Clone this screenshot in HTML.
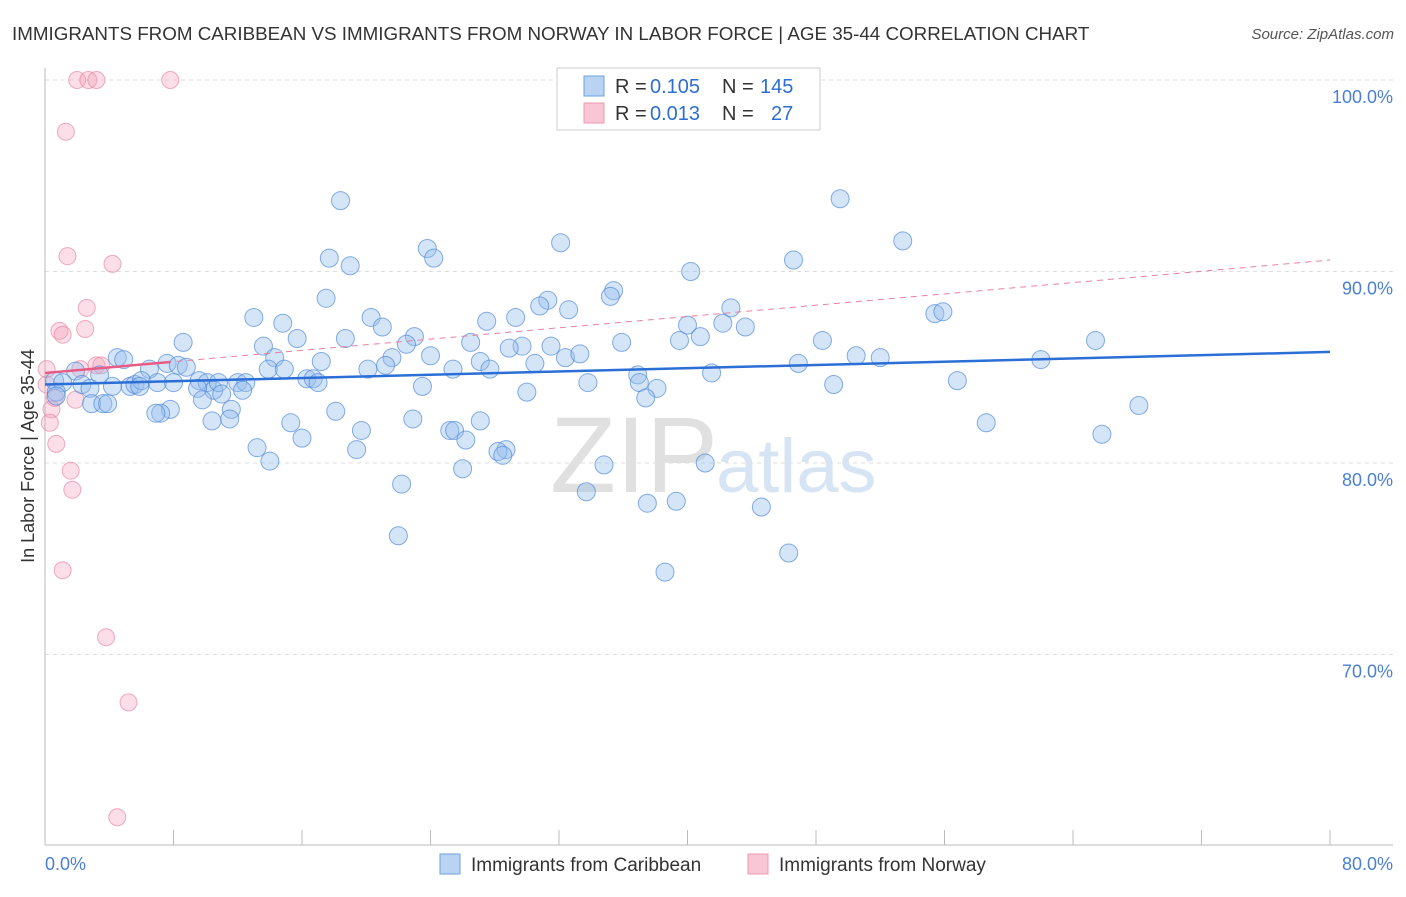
<!DOCTYPE html>
<html><head><meta charset="utf-8"><style>
body{margin:0;background:#fff;font-family:"Liberation Sans",sans-serif}
svg text{font-family:"Liberation Sans",sans-serif}
</style></head><body>
<svg id="chart" width="1406" height="892">
<text x="12" y="40" font-size="18.8" fill="#333">IMMIGRANTS FROM CARIBBEAN VS IMMIGRANTS FROM NORWAY IN LABOR FORCE | AGE 35-44 CORRELATION CHART</text>
<text x="1394" y="39" font-size="15" fill="#555" font-style="italic" text-anchor="end">Source: ZipAtlas.com</text>
<g id="grid"></g>
<text x="718" y="492" font-size="108" fill="#e0e0e0" text-anchor="end" font-family="Liberation Serif">ZIP</text>
<text x="716" y="492" font-size="76" fill="#d6e4f4">atlas</text>
<g id="pts"></g>
<g id="trends"></g>
<text transform="translate(34,456) rotate(-90)" font-size="18" fill="#333" text-anchor="middle">In Labor Force | Age 35-44</text>
<text x="45" y="870" font-size="18" fill="#4a7fd4">0.0%</text>
<text x="1393" y="870" font-size="18" fill="#4a7fd4" text-anchor="end">80.0%</text>
<g>
<rect x="557" y="68" width="263" height="62" fill="#fff" stroke="#ccc"/>
<rect x="584" y="76" width="20" height="20" fill="#b9d3f3" stroke="#6fa0e0"/>
<rect x="584" y="103" width="20" height="20" fill="#f8c6d4" stroke="#ee9ab3"/>
<text x="615" y="93" font-size="20" fill="#333">R =</text>
<text x="650" y="93" font-size="20" fill="#2d6ed2">0.105</text>
<text x="722" y="93" font-size="20" fill="#333">N =</text>
<text x="760" y="93" font-size="20" fill="#2d6ed2">145</text>
<text x="615" y="120" font-size="20" fill="#333">R =</text>
<text x="650" y="120" font-size="20" fill="#2d6ed2">0.013</text>
<text x="722" y="120" font-size="20" fill="#333">N =</text>
<text x="771" y="120" font-size="20" fill="#2d6ed2">27</text>
</g>
<g>
<rect x="440" y="854" width="20" height="20" fill="#b9d3f3" stroke="#6fa0e0"/>
<text x="471" y="871" font-size="19" fill="#333">Immigrants from Caribbean</text>
<rect x="748" y="854" width="20" height="20" fill="#f8c6d4" stroke="#ee9ab3"/>
<text x="779" y="871" font-size="19" fill="#333">Immigrants from Norway</text>
</g>
</svg>
<script>
const yTicks=[100,90,80,70];
const yTickLabels=["100.0%","90.0%","80.0%","70.0%"];
const xTicks=[8,16,24,32,40,48,56,64,72,80];
const blueX=[18.4,49.5,53.4,32.1,23.8,24.2,17.7,19.0,46.6,40.2,35.4,35.2,17.5,31.3,30.8,32.6,42.7,13.0,20.3,14.8,27.5,29.3,55.4,55.9,40.0,42.2,43.6,21.0,23.0,18.7,15.7,8.6,13.6,26.5,29.7,28.9,35.9,39.5,40.8,48.4,65.4,22.5,14.3,21.6,24.0,31.5,32.4,33.3,50.5,52.0,62.0,4.5,4.9,7.6,8.3,8.8,6.5,13.9,14.9,17.2,20.1,21.2,27.1,25.4,30.5,27.7,36.9,41.5,46.9,1.9,3.4,0.6,1.1,2.3,2.8,4.2,5.3,5.6,6.0,7.0,8.0,5.9,9.6,10.1,10.5,10.8,12.0,12.5,12.3,9.5,16.3,16.7,17.0,23.5,33.8,37.0,38.1,49.1,56.8,0.7,0.7,2.9,3.6,3.9,9.8,11.0,11.6,7.8,7.2,6.9,10.4,11.5,18.1,30.0,37.4,15.3,19.7,16.0,22.9,27.1,25.2,25.5,26.2,28.7,28.2,28.5,19.4,13.2,14.0,26.0,34.8,41.1,58.6,65.8,68.1,22.2,33.7,37.5,39.3,44.6,22.0,46.3,38.6];
const blueY=[93.7,93.8,91.6,91.5,91.2,90.7,90.7,90.3,90.6,90.0,89.0,88.7,88.6,88.5,88.2,88.0,88.1,87.6,87.6,87.3,87.4,87.6,87.8,87.9,87.2,87.3,87.1,87.1,86.6,86.5,86.5,86.3,86.1,86.3,86.1,86.0,86.3,86.4,86.6,86.4,86.4,86.2,85.5,85.5,85.6,86.1,85.5,85.7,85.6,85.5,85.4,85.5,85.4,85.2,85.1,85.0,84.9,84.9,84.9,85.3,84.9,85.1,85.3,84.9,85.2,84.9,84.6,84.7,85.2,84.8,84.6,84.3,84.2,84.1,83.9,84.0,84.0,84.1,84.3,84.2,84.2,84.0,84.3,84.2,83.8,84.2,84.2,84.2,83.8,83.9,84.4,84.4,84.2,84.0,84.2,84.2,83.9,84.1,84.3,83.7,83.5,83.1,83.1,83.1,83.3,83.6,82.8,82.8,82.6,82.6,82.2,82.3,82.7,83.7,83.4,82.1,81.7,81.3,82.3,82.2,81.7,81.7,81.2,80.7,80.6,80.4,80.7,80.8,80.1,79.7,79.9,80.0,82.1,81.5,83.0,78.9,78.5,77.9,78.0,77.7,76.2,75.3,74.3];
const pinkX=[2.0,2.7,3.2,7.8,1.3,1.4,4.2,2.6,0.9,1.1,2.5,0.1,2.2,3.2,3.5,0.6,0.4,0.3,0.7,1.6,1.7,1.1,3.8,5.2,4.5,1.9,0.1];
const pinkY=[100,100,100,100,97.3,90.8,90.4,88.1,86.9,86.7,87.0,84.9,84.9,85.1,85.1,83.4,82.8,82.1,81.0,79.6,78.6,74.4,70.9,67.5,61.5,83.3,84.1];
const blueTrend=[84.1,85.8];
const pinkTrend=[84.7,90.6];
const NS="http://www.w3.org/2000/svg";
const X0=45,X1=1330,Y100=80,PXPER=19.15;
function sx(v){return X0+(X1-X0)*v/80;}
function sy(v){return Y100+(100-v)*PXPER;}
function mk(tag,attrs,parent){const e=document.createElementNS(NS,tag);for(const k in attrs)e.setAttribute(k,attrs[k]);parent.appendChild(e);return e;}
const grid=document.getElementById('grid');
yTicks.forEach((t,i)=>{
 const l=mk('line',{x1:X0,x2:1393,y1:sy(t),y2:sy(t),stroke:'#ddd','stroke-dasharray':'4,4'},grid);
 
 
 const tx=mk('text',{x:1393,y:sy(t)+23,'font-size':18,fill:'#4a7fd4','text-anchor':'end'},grid);
 tx.textContent=yTickLabels[i];
 
 
});
const ax=mk('line',{x1:X0,x2:X0,y1:68,y2:845,stroke:'#bbb'},grid);


const bx=mk('line',{x1:X0,x2:1393,y1:845,y2:845,stroke:'#bbb'},grid);


xTicks.forEach(t=>{
 const tk=mk('line',{x1:sx(t),x2:sx(t),y1:830,y2:845,stroke:'#bbb'},grid);
 
 
});
const pts=document.getElementById('pts');
pinkX.forEach((x,i)=>{
 const c=mk('circle',{cx:sx(x),cy:sy(pinkY[i]),r:8.5,fill:'rgba(244,160,185,0.35)',stroke:'rgba(232,120,155,0.6)','stroke-width':1},pts);
 
 
});
blueX.forEach((x,i)=>{
 const c=mk('circle',{cx:sx(x),cy:sy(blueY[i]),r:9,fill:'rgba(150,190,238,0.4)',stroke:'rgba(70,130,215,0.65)','stroke-width':1},pts);
 
 
});
const tr=document.getElementById('trends');
const pd=mk('line',{x1:sx(0),y1:sy(pinkTrend[0]),x2:sx(80),y2:sy(pinkTrend[1]),stroke:'#e8809e','stroke-width':1,'stroke-dasharray':'6,5'},tr);


const ps=mk('line',{x1:sx(0),y1:sy(pinkTrend[0]),x2:sx(7.8),y2:sy(pinkTrend[0]+(pinkTrend[1]-pinkTrend[0])*7.8/80),stroke:'#e85b85','stroke-width':2.5},tr);


const bl=mk('line',{x1:sx(0),y1:sy(blueTrend[0]),x2:sx(80),y2:sy(blueTrend[1]),stroke:'#2b6fd6','stroke-width':2.5},tr);


</script>
</body></html>
